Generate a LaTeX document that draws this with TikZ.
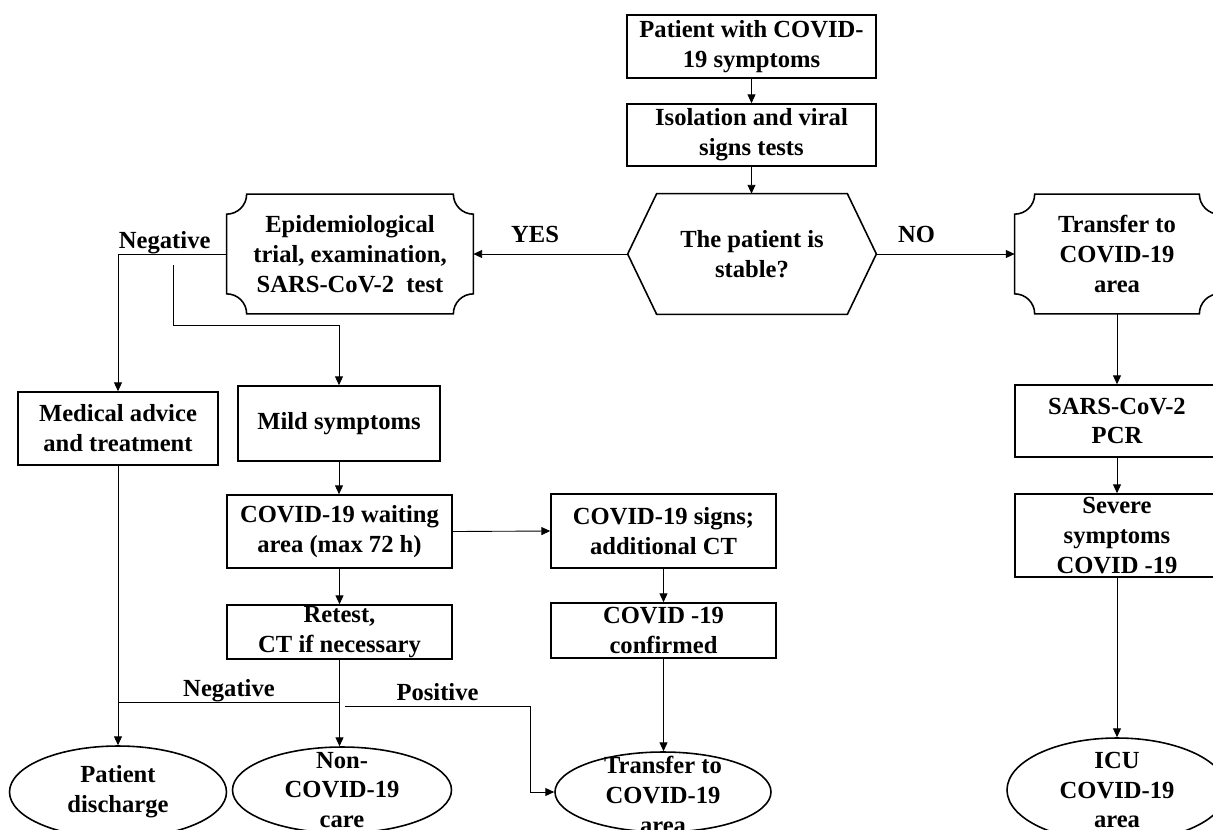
\documentclass[tikz,border=0pt]{standalone}
\usepackage{fontspec}
\setmainfont{Liberation Serif}
\usetikzlibrary{positioning,calc,arrows.meta,shapes.geometric}

\begin{document}
\begin{tikzpicture}
    [x=0.02cm, y=-0.02cm,
     every node/.style={font=\fontsize{14}{17}\selectfont\bfseries, align=center, inner sep=0pt},
     box/.style 2 args={draw, line width=0.9pt, minimum width=#1*0.02cm, minimum height=#2*0.02cm},
     plaque/.style 2 args={minimum width=#1*0.02cm, minimum height=#2*0.02cm},
     oval/.style 2 args={draw, ellipse, line width=0.9pt, minimum width=#1*0.02cm, minimum height=#2*0.02cm},
     arr/.style={line width=0.5pt, -{Triangle[length=5pt,width=4.5pt]}},
     link/.style={line width=0.5pt}]
  \useasboundingbox (0,0) rectangle (1213,829);
  \clip (0,0) rectangle (1213,829);

  \node[box={249}{63}] (pat) at (751.5,46.5) {Patient with COVID-\\19 symptoms};
  \node[box={249}{62}] (iso) at (751.5,135) {Isolation and viral\\signs tests};
  \node[plaque={248}{120}] (dec) at (752,254) {The patient is\\stable?};
  \node[plaque={246}{119}] (epi) at (350,254) {Epidemiological\\trial, examination,\\SARS-CoV-2~~test};
  \node[plaque={204}{119}] (trn) at (1117,254) {Transfer to\\COVID-19\\area};

  \node[box={200}{73}] (med) at (118,428.5) {Medical advice\\and treatment};
  \node[box={202}{75}] (mild) at (339,423.5) {Mild symptoms};
  \node[box={225}{73}] (wait) at (339.5,531.5) {COVID-19 waiting\\area (max 72 h)};
  \node[box={225}{74}] (sign) at (663.5,531) {COVID-19 signs;\\additional CT};
  \node[box={225}{55}] (conf) at (663.5,630.5) {COVID -19\\confirmed};
  \node[box={225}{54}] (retest) at (339.5,632) {Retest,\\CT if necessary};
  \node[box={204}{72}] (pcr) at (1117,421) {SARS-CoV-2\\PCR};
  \node[box={204}{83}] (sev) at (1117,535.5) {Severe\\symptoms\\COVID -19};

  \node[oval={217}{92}] (dis) at (118,792) {};
  \node[oval={219}{86}] (non) at (342,790) {};
  \node[oval={216}{80}] (tr2) at (663,792) {};
  \node[oval={220}{104}] (icu) at (1117,790) {};
  \node (dist) at (dis) {Patient\\discharge};
  \node (nont) at (non) {Non-\\COVID-19\\care};
  \node (tr2t) at (663,795) {Transfer to\\COVID-19\\area};
  \node (icut) at (icu) {ICU\\COVID-19\\area};

  % decision hexagon
  \draw[line width=0.9pt] (dec.west) -- ($(dec.north west)+(29,0)$) -- ($(dec.north east)+(-29,0)$)
    -- (dec.east) -- ($(dec.south east)+(-29,0)$) -- ($(dec.south west)+(29,0)$) -- cycle;

  % boxes with cut corners
  \foreach \n in {epi,trn}
    \draw[line width=0.9pt] ($(\n.north west)+(20,0)$) -- ($(\n.north east)+(-20,0)$)
      arc[start angle=180, end angle=90, radius=20] -- ($(\n.south east)+(0,-20)$)
      arc[start angle=270, end angle=180, radius=20] -- ($(\n.south west)+(20,0)$)
      arc[start angle=0, end angle=-90, radius=20] -- ($(\n.north west)+(0,20)$)
      arc[start angle=90, end angle=0, radius=20] -- cycle;

  \foreach \from/\to in {pat/iso, iso/dec, mild/wait, wait/retest, sign/conf, conf/tr2, trn/pcr, pcr/sev, sev/icu, retest/non, med/dis}
    \draw[arr] (\from.south) -- (\from.south |- \to.north);

  \draw[arr] (dec.west) -- node[pos=0.6, above=6pt]{YES} (epi.east);
  \draw[arr] (dec.east) -- node[pos=0.29, above=6pt]{NO} (trn.west);
  \draw[arr] (epi.west) -- (epi.west -| med.north) node[pos=0.57, above=0pt]{Negative} -- (med.north);
  \draw[arr] (wait.east) -- (sign.west);

  \coordinate (br) at (173,265);
  \draw[arr] (br) -- ++(0,60) -| (mild.north);

  \coordinate (jn) at (340,702);
  \draw[link] (jn) -- node[above=0pt]{Negative} (jn -| med.south);
  \coordinate (pb) at (345,706);
  \draw[arr] (pb) -- node[above=3pt]{Positive} ++(185,0) |- (tr2.west);
\end{tikzpicture}
\end{document}
